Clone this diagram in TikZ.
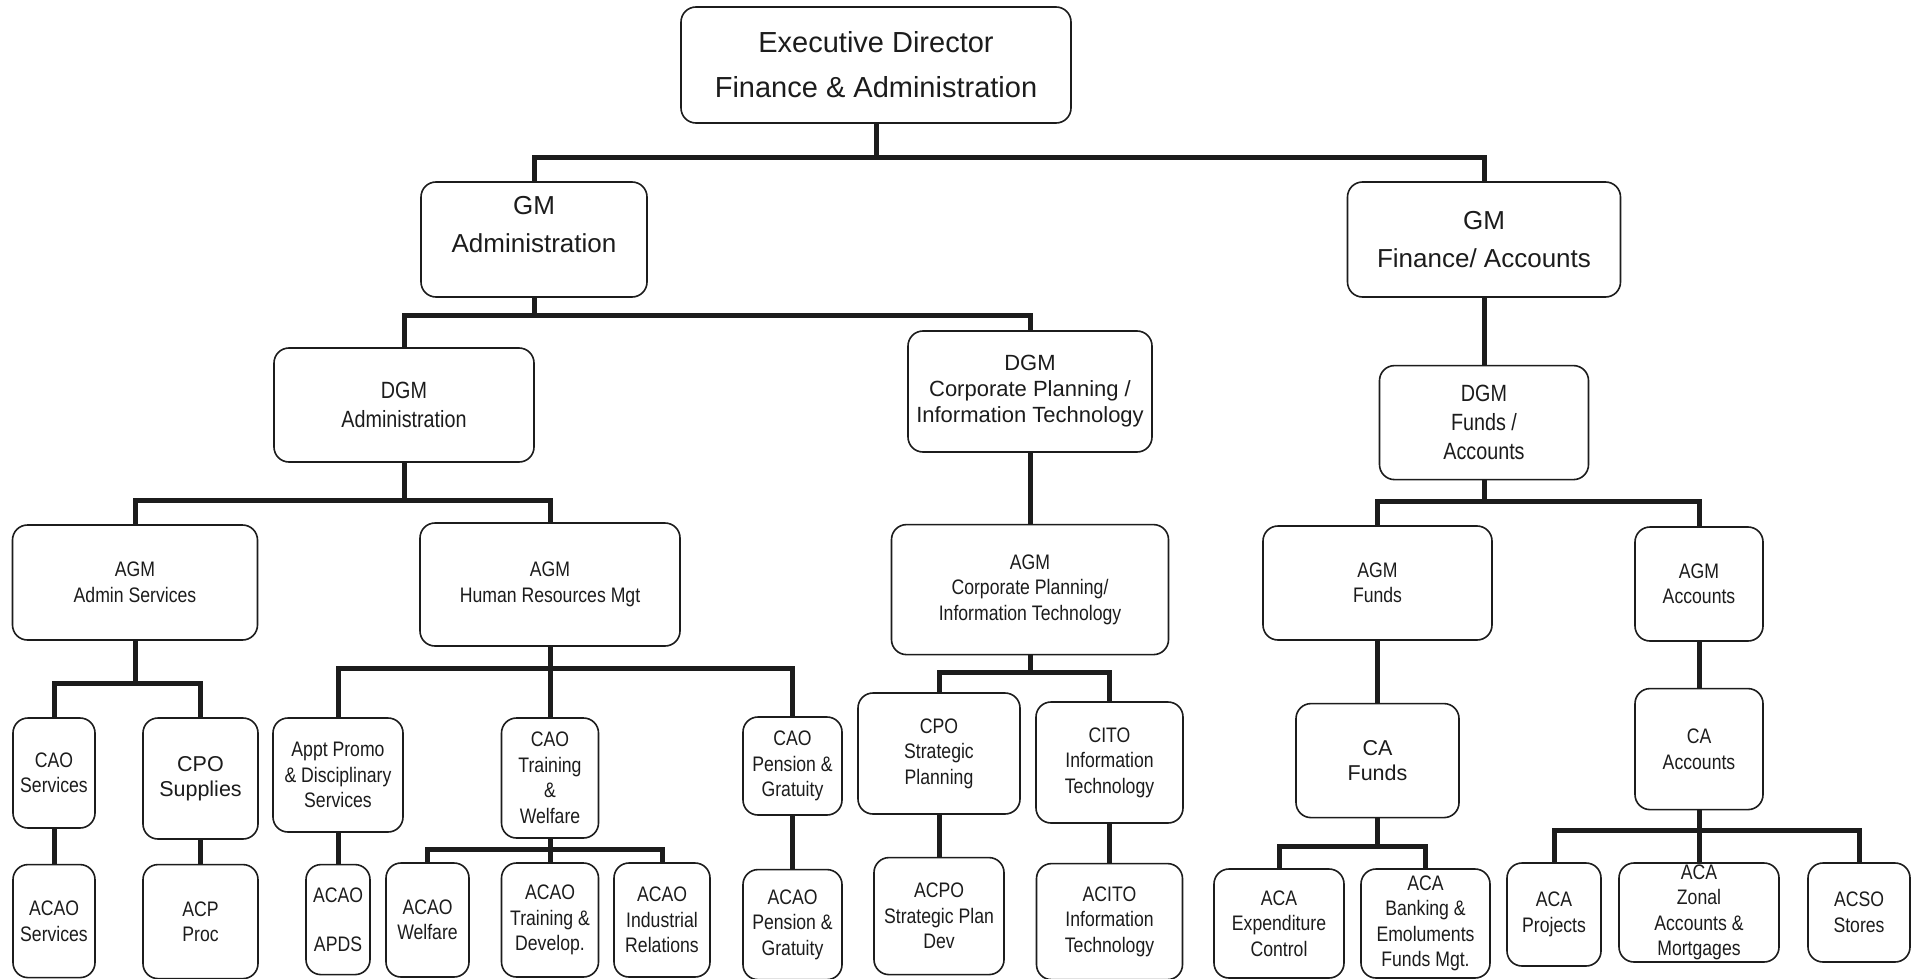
\documentclass[tikz,border=0pt]{standalone}
\usepackage{fontspec}
\setmainfont{Liberation Sans}
\newfontfamily\narrowsf{Liberation Sans}[FakeStretch=0.84]
\usepackage{tikz}
\usetikzlibrary{positioning}
\definecolor{ink}{HTML}{1C1C1C}

\begin{document}
\begin{tikzpicture}[x=1pt,y=-1pt]
\tikzset{box/.style={draw=ink,text=ink,fill=white,line width=1.6pt,rounded corners=15pt,align=center,inner sep=0pt}, chief/.style={box,font=\fontsize{29}{45}\selectfont}, head/.style={box,font=\fontsize{26}{38}\selectfont}, dept/.style={box,font=\narrowsf\fontsize{23.5}{29}\selectfont}, deptw/.style={box,font=\fontsize{22}{26}\selectfont}, office/.style={box,font=\narrowsf\fontsize{21}{25.5}\selectfont}, officew/.style={box,font=\fontsize{21.5}{25.5}\selectfont}, wire/.style={draw=ink,line width=5pt}}
\path[use as bounding box,fill=white] (0,0) rectangle (1911,979);
\clip (0,0) rectangle (1911,979);

\node[chief,minimum width=390pt,minimum height=116pt] (ed) at (876,65) {Executive Director\\Finance \& Administration};
\node[head,minimum width=226pt,minimum height=115pt] (gmA) at (534,239.5) {GM\\Administration\\[-8pt]\mbox{}};
\node[head,minimum width=273pt,minimum height=115pt] (gmF) at (1484,239.5) {GM\\Finance/ Accounts};
\node[dept,minimum width=260pt,minimum height=114pt] (dgmA) at (404,405) {DGM\\Administration};
\node[deptw,minimum width=244pt,minimum height=121pt] (dgmC) at (1030,391.5) {DGM\\Corporate Planning /\\Information Technology};
\node[dept,minimum width=209pt,minimum height=114pt,below=67pt of gmF] (dgmF) {DGM\\Funds /\\Accounts};

\node[office,minimum width=245pt,minimum height=115pt] (agmA) at (135,582.5) {AGM\\Admin Services};
\node[office,minimum width=260pt,minimum height=123pt] (agmH) at (550,584.5) {AGM\\Human Resources Mgt};
\node[office,minimum width=277pt,minimum height=130pt,below=71pt of dgmC] (agmC) {AGM\\Corporate Planning/\\Information Technology};
\node[office,minimum width=229pt,minimum height=114pt] (agmF) at (1377.5,583) {AGM\\Funds};
\node[office,minimum width=128pt,minimum height=114pt] (agmT) at (1699,584) {AGM\\Accounts};

\node[office,minimum width=82pt,minimum height=110pt] (caoS) at (54,773) {CAO\\Services};
\node[officew,minimum width=115pt,minimum height=121pt] (cpoS) at (200.5,778.5) {CPO\\Supplies};
\node[office,minimum width=130pt,minimum height=114pt] (appt) at (338,775) {Appt Promo\\\& Disciplinary\\Services};
\node[office,minimum width=97pt,minimum height=120pt] (caoT) at (550,778) {CAO\\Training\\\&\\Welfare};
\node[office,minimum width=99pt,minimum height=98pt] (caoP) at (792.5,766) {CAO\\Pension \&\\Gratuity};
\node[office,minimum width=162pt,minimum height=121pt] (cpoP) at (939,753.5) {CPO\\Strategic\\Planning};
\node[office,minimum width=147pt,minimum height=121pt] (cito) at (1109.5,762.5) {CITO\\Information\\Technology};
\node[officew,minimum width=163pt,minimum height=114pt,below=62pt of agmF] (caF) {CA\\Funds};
\node[office,minimum width=128pt,minimum height=121pt,below=46pt of agmT] (caA) {CA\\Accounts};

\node[office,minimum width=82pt,minimum height=113pt,below=35pt of caoS] (acaoS) {ACAO\\Services};
\node[office,minimum width=115pt,minimum height=114pt,below=24pt of cpoS] (acp) {ACP\\Proc};
\node[office,minimum width=64pt,minimum height=110pt,below=31pt of appt] (apds) {ACAO\\[24pt]APDS};
\node[office,minimum width=83pt,minimum height=114pt] (acaoW) at (427.5,920) {ACAO\\Welfare};
\node[office,minimum width=97pt,minimum height=114pt] (acaoD) at (550,920) {ACAO\\Training \&\\Develop.};
\node[office,minimum width=96pt,minimum height=114pt] (acaoI) at (662,920) {ACAO\\Industrial\\Relations};
\node[office,minimum width=99pt,minimum height=110pt,below=53pt of caoP] (acaoP) {ACAO\\Pension \&\\Gratuity};
\node[office,minimum width=130pt,minimum height=117pt,below=42pt of cpoP] (acpo) {ACPO\\Strategic Plan\\Dev};
\node[office,minimum width=146pt,minimum height=116pt,below=39pt of cito] (acito) {ACITO\\Information\\Technology};
\node[office,minimum width=130pt,minimum height=109pt] (acaE) at (1279,923.5) {ACA\\Expenditure\\Control};
\node[office,minimum width=129pt,minimum height=109pt] (acaB) at (1425.5,923.5) {ACA\\Banking \&\\Emoluments\\Funds Mgt.};
\node[office,minimum width=94pt,minimum height=103pt] (acaP) at (1554,914.5) {ACA\\Projects};
\node[office,minimum width=160pt,minimum height=99pt] (acaZ) at (1699,912.5) {ACA\\Zonal\\Accounts \&\\Mortgages};
\node[office,minimum width=102pt,minimum height=99pt] (acso) at (1859,912.5) {ACSO\\Stores};

\coordinate (busED) at (0,157); \coordinate (busGM) at (0,315); \coordinate (busDA) at (0,500); \coordinate (busDF) at (0,501);
\coordinate (busAA) at (0,683); \coordinate (busAH) at (0,668); \coordinate (busAC) at (0,672);
\coordinate (busCT) at (0,849); \coordinate (busCF) at (0,846); \coordinate (busCA) at (0,830);

\draw[wire] (ed) -- (ed |- busED) -| (gmA) (ed |- busED) -| (gmF);
\draw[wire] (gmA) -- (gmA |- busGM) -| (dgmA) (gmA |- busGM) -| (dgmC); \draw[wire] (gmF) -- (dgmF);
\draw[wire] (dgmA) -- (dgmA |- busDA) -| (agmA) (dgmA |- busDA) -| (agmH); \draw[wire] (dgmC) -- (agmC);
\draw[wire] (dgmF) -- (dgmF |- busDF) -| (agmF) (dgmF |- busDF) -| (agmT);
\draw[wire] (agmA) -- (agmA |- busAA) -| (caoS) (agmA |- busAA) -| (cpoS);
\draw[wire] (agmH) -- (agmH |- busAH) -| (appt) (agmH |- busAH) -| (caoT) (agmH |- busAH) -| (caoP);
\draw[wire] (agmC) -- (agmC |- busAC) -| (cpoP) (agmC |- busAC) -| (cito);
\draw[wire] (agmF) -- (caF); \draw[wire] (agmT) -- (caA);
\draw[wire] (caoS) -- (acaoS); \draw[wire] (cpoS) -- (acp); \draw[wire] (appt) -- (apds);
\draw[wire] (caoP) -- (acaoP); \draw[wire] (cpoP) -- (acpo); \draw[wire] (cito) -- (acito);
\draw[wire] (caoT) -- (caoT |- busCT) -| (acaoW) (caoT |- busCT) -| (acaoD) (caoT |- busCT) -| (acaoI);
\draw[wire] (caF) -- (caF |- busCF) -| (acaE) (caF |- busCF) -| (acaB);
\draw[wire] (caA) -- (caA |- busCA) -| (acaP) (caA |- busCA) -| (acaZ) (caA |- busCA) -| (acso);
\end{tikzpicture}
\end{document}
